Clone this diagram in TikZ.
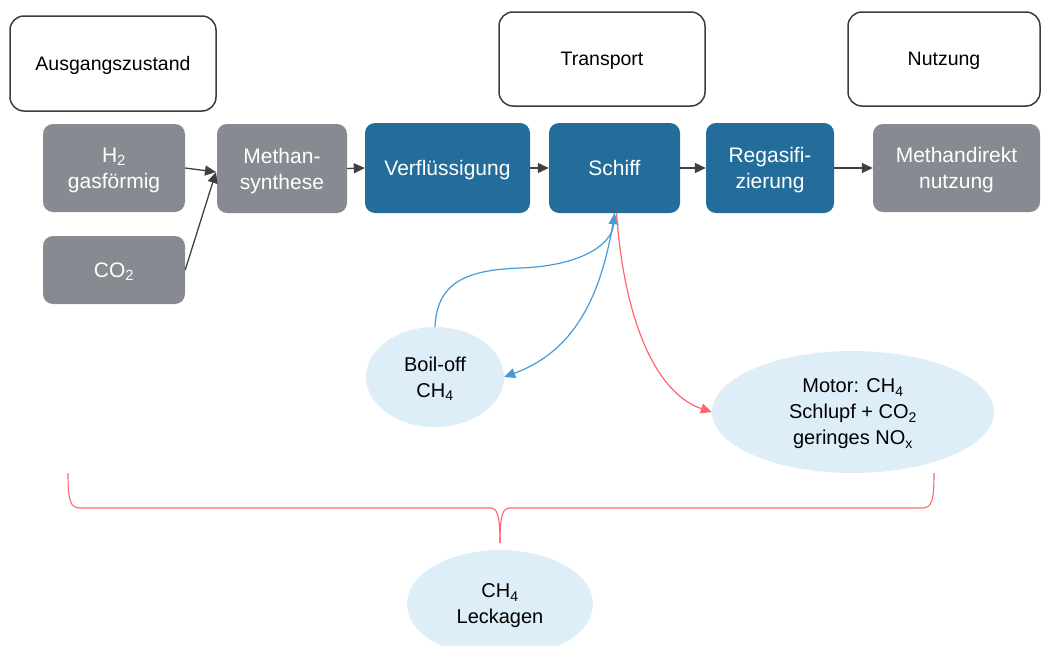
\documentclass[tikz,border=0pt]{standalone}
\usepackage{fontspec}
\setmainfont{Liberation Sans}
\usetikzlibrary{shapes.geometric,arrows.meta}
\definecolor{boxgray}{RGB}{135,139,145}
\definecolor{boxblue}{RGB}{36,108,154}
\definecolor{ellfill}{RGB}{222,238,248}
\definecolor{arrgray}{RGB}{64,64,64}
\definecolor{curveblue}{RGB}{70,155,215}
\definecolor{curvered}{RGB}{255,100,115}
\definecolor{hdrline}{RGB}{60,60,60}
\begin{document}
\begin{tikzpicture}[x=1pt,y=-1pt,
  hdr/.style={draw=hdrline,line width=1.5pt,rounded corners=14pt,fill=white,
    minimum height=94pt,inner sep=0pt,text depth=0pt,font=\fontsize{19.5}{23}\selectfont},
  proc/.style={rounded corners=10pt,inner sep=0pt,text=white,align=center,
    text depth=0pt,font=\fontsize{21}{26}\selectfont},
  gbox/.style={proc,fill=boxgray},
  bbox/.style={proc,fill=boxblue},
  ell/.style={ellipse,fill=ellfill,inner sep=0pt,align=center,text depth=0pt,
    font=\fontsize{20}{26}\selectfont},
  flow/.style={draw=arrgray,line width=1.3pt,-{Triangle[length=11pt,width=10pt]}},
  bluecurve/.style={draw=curveblue,line width=1.2pt,-{Triangle[length=11pt,width=10pt]}},
  redcurve/.style={draw=curvered,line width=1.2pt,-{Triangle[length=11pt,width=10pt]}},
  bracestyle/.style={draw=curvered,line width=1.1pt}]
\useasboundingbox (0,0) rectangle (1041,645);

% header boxes
\node[hdr,minimum width=206pt,minimum height=95pt] (hA) at (113,63.5) {Ausgangszustand};
\node[hdr,minimum width=206pt] (hT) at (602,59) {Transport};
\node[hdr,minimum width=192pt] (hN) at (944,59) {Nutzung};

% process boxes
\node[gbox,minimum width=142pt,minimum height=88pt] (h2) at (114,168) {H\textsubscript{2}\\gasförmig};
\node[gbox,minimum width=142pt,minimum height=68pt] (co2) at (114,270) {CO\textsubscript{2}};
\node[gbox,minimum width=130pt,minimum height=89pt] (ms) at (282,168.5) {Methan-\\synthese};
\node[bbox,minimum width=165pt,minimum height=90pt] (vf) at (447.5,168) {Verflüssigung};
\node[bbox,minimum width=131pt,minimum height=90pt] (sc) at (614.5,168) {Schiff};
\node[bbox,minimum width=128pt,minimum height=90pt] (rg) at (770,168) {Regasifi-\\zierung};
\node[gbox,minimum width=167pt,minimum height=88pt] (md) at (956.5,168) {Methandirekt\\nutzung};

% ellipses
\node[ell,minimum width=138pt,minimum height=100pt] (bo) at (435,377) {Boil-off\\CH\textsubscript{4}};
\node[ell,minimum width=282pt,minimum height=122pt] (mo) at (853,412) {Motor: CH\textsubscript{4}\\Schlupf + CO\textsubscript{2}\\geringes NO\textsubscript{x}};
\node[ell,minimum width=186pt,minimum height=108pt] (lk) at (500,604) {CH\textsubscript{4}\\Leckagen};

% flow arrows
\coordinate (msin) at (216,172);
\draw[flow] (h2.east) -- (msin);
\draw[flow] (co2.east) -- (msin);
\draw[flow] (ms.east) -- (vf.west);
\draw[flow] (vf.east) -- (sc.west);
\draw[flow] (sc.east) -- (rg.west);
\draw[flow] (rg.east) -- (md.west);

% curves
\draw[bluecurve] (bo.north) .. controls (437,280) and (470,270) .. (520,268)
  .. controls (580,266) and (612,245) .. (sc.south);
\draw[bluecurve] (sc.south) .. controls (602,300) and (572,352) .. (bo.east);
\draw[redcurve] ([xshift=2pt]sc.south) .. controls (625,330) and (660,395) .. (mo.west);

% brace
\coordinate (bL) at (68,473);
\coordinate (bR) at (934,473);
\coordinate (bT) at (500,543);
\draw[bracestyle] (bL) .. controls (68,500) and (70,508) .. (80,508) -- (490,508)
  .. controls (497,508) and (500,514) .. (bT);
\draw[bracestyle] (bR) .. controls (934,500) and (932,508) .. (922,508) -- (510,508)
  .. controls (503,508) and (500,514) .. (bT);
\end{tikzpicture}
\end{document}
